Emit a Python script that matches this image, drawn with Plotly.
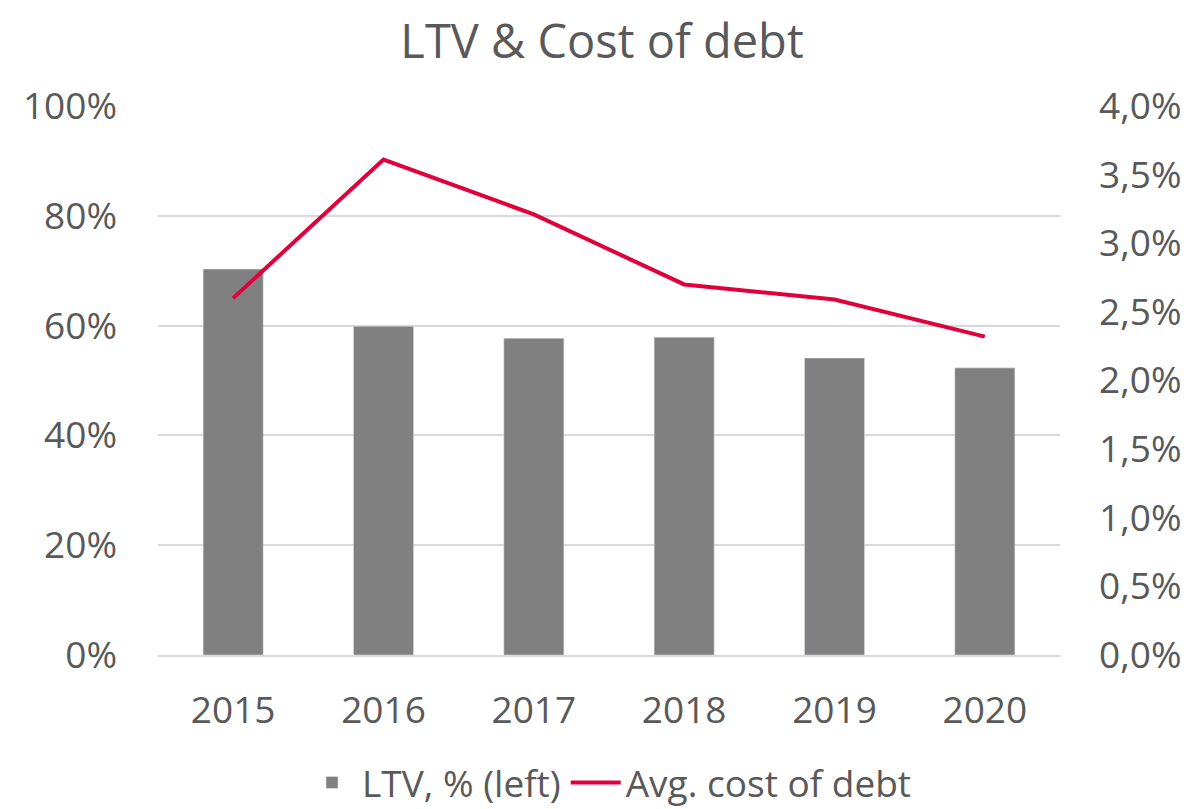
import plotly.graph_objects as go

years = ["2015", "2016", "2017", "2018", "2019", "2020"]
ltv = [70.3, 59.9, 57.7, 57.9, 54.1, 52.3]
cost_of_debt = [2.60, 3.61, 3.21, 2.70, 2.59, 2.32]

left_vals = [0, 20, 40, 60, 80, 100]
left_text = ["0%", "20%", "40%", "60%", "80%", "100%"]
right_vals = [0, 0.5, 1.0, 1.5, 2.0, 2.5, 3.0, 3.5, 4.0]
right_text = ["0,0%", "0,5%", "1,0%", "1,5%", "2,0%", "2,5%", "3,0%", "3,5%", "4,0%"]

FONT = "Open Sans"
TXT = "#595959"
FS = 37

fig = go.Figure()
fig.add_trace(go.Bar(x=years, y=ltv, name="LTV, % (left)", marker_color="#808080",
                     width=0.4, yaxis="y"))
fig.add_trace(go.Scatter(x=years, y=cost_of_debt, name="Avg. cost of debt", mode="lines",
                         line=dict(color="#E0003C", width=4), yaxis="y2"))

fig.update_layout(
    width=1188, height=801,
    margin=dict(l=150, r=136, t=98, b=154, autoexpand=False),
    paper_bgcolor="white", plot_bgcolor="white",
    font=dict(family=FONT, color=TXT, size=FS),
    title=dict(text="LTV & Cost of debt", x=0.5, xanchor="center", y=0.958, yanchor="middle",
               font=dict(size=47, color=TXT, family=FONT)),
    xaxis=dict(showgrid=False, showline=True, linecolor="#D9D9D9", linewidth=2,
               ticks="", ticklabelstandoff=22, tickfont=dict(size=FS, color=TXT)),
    yaxis=dict(range=[0, 100], tickvals=left_vals, ticktext=left_text, showgrid=True,
               gridcolor="#D9D9D9", gridwidth=2, zeroline=False, showline=False,
               ticklabelstandoff=40, tickfont=dict(size=FS, color=TXT)),
    yaxis2=dict(range=[0, 4.0], tickvals=right_vals, ticktext=right_text, overlaying="y",
                side="right", showgrid=False, zeroline=False, showline=False,
                ticklabelstandoff=38, tickfont=dict(size=FS, color=TXT)),
    legend=dict(orientation="h", x=0.5, xanchor="center", y=-0.233, yanchor="middle",
                font=dict(size=FS, color=TXT), itemwidth=50, traceorder="normal"),
    showlegend=True,
)

fig.write_html("out.html")
